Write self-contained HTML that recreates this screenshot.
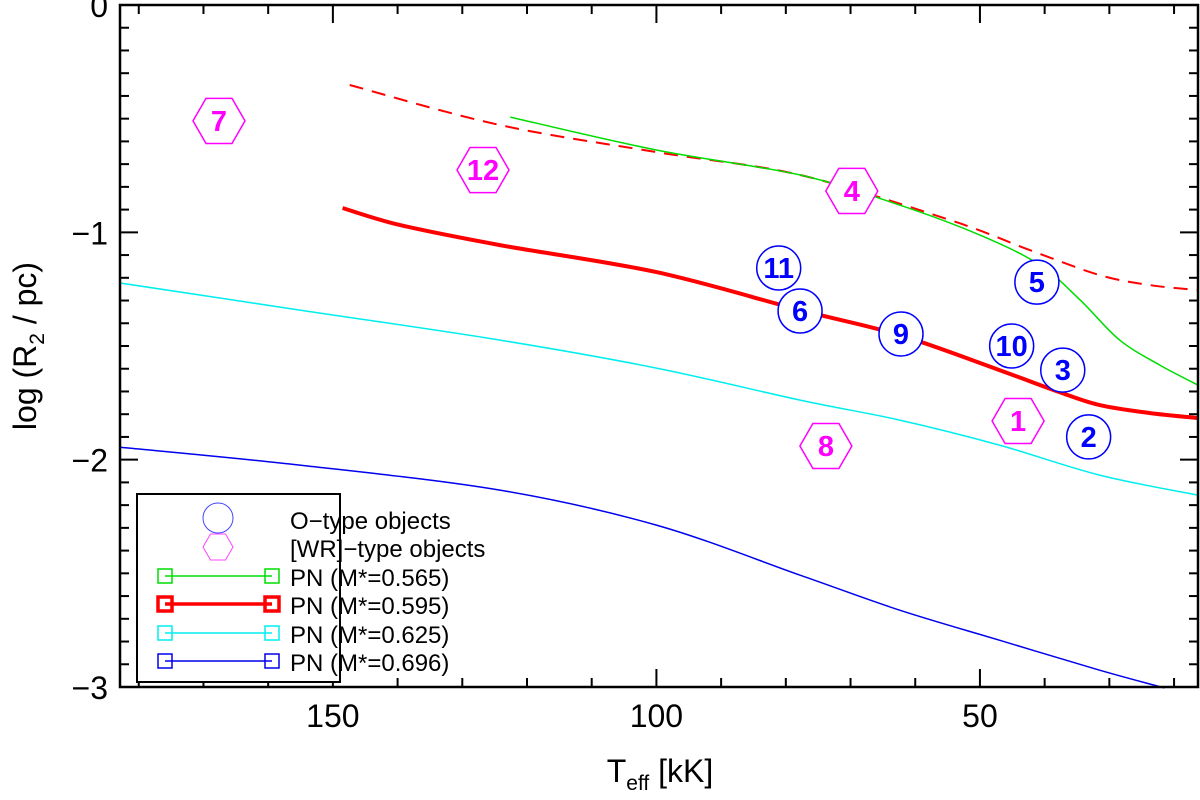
<!DOCTYPE html>
<html><head><meta charset="utf-8"><style>
body{margin:0;background:#fff}
svg text{font-family:"Liberation Sans",sans-serif}
</style></head><body>
<svg id="chart" width="1200" height="795" xmlns="http://www.w3.org/2000/svg">
<g id="grid"></g>
<g id="curves"></g>
<g id="marks"></g>
<rect x="120" y="5" width="1078" height="682" fill="none" stroke="#000" stroke-width="2.5"/>
<text x="660" y="782" font-size="32" text-anchor="middle">T<tspan font-size="21" dy="8">eff</tspan><tspan dy="-8"> [kK]</tspan></text>
<text transform="translate(36,346) rotate(-90)" font-size="32" text-anchor="middle">log (R<tspan font-size="21" dy="8">2</tspan><tspan dy="-8"> / pc)</tspan></text>
<g id="legend">
<rect x="137" y="494" width="203" height="188" fill="#fff" stroke="#000" stroke-width="2"/>
</g>
</svg>
<script>
const xTicks=[150,100,50];
const yTicks=[0,-1,-2,-3];
const oNames=["11","6","9","5","10","3","2"];
const oT=[81.1,77.8,62.2,41.2,45.1,37.2,33.2];
const oR=[-1.157,-1.346,-1.447,-1.219,-1.50,-1.606,-1.90];
const wrNames=["7","12","4","1","8"];
const wrT=[167.6,126.8,69.8,44.1,73.8];
const wrR=[-0.51,-0.726,-0.818,-1.83,-1.94];
const dashT=[147.4,124.2,100,77.8,54.6,42.3,31.5,23.7,16.3];
const dashR=[-0.352,-0.528,-0.647,-0.748,-0.946,-1.078,-1.188,-1.232,-1.254];
const greenT=[122.6,100,77.8,62.4,50,40.7,34.5,28.4,22.2,16.3];
const greenR=[-0.493,-0.638,-0.748,-0.88,-1.012,-1.144,-1.298,-1.474,-1.584,-1.672];
const redT=[148.5,139.6,124.2,100,77.8,62.4,47,37.7,31.5,23.7,16.3];
const redR=[-0.893,-0.968,-1.056,-1.175,-1.342,-1.452,-1.606,-1.703,-1.76,-1.795,-1.817];
const cyanT=[182.9,155.1,124.2,100,77.8,62.4,47,31.5,16.3];
const cyanR=[-1.223,-1.342,-1.474,-1.597,-1.738,-1.826,-1.936,-2.068,-2.156];
const blueT=[182.9,155.1,124.2,100,77.8,62.4,47,31.5,21.5];
const blueR=[-1.945,-2.024,-2.134,-2.288,-2.508,-2.662,-2.794,-2.926,-3.004];
const legendLabels=["O\u2212type objects","[WR]\u2212type objects","PN (M*=0.565)","PN (M*=0.595)","PN (M*=0.625)","PN (M*=0.696)"];

const NS="http://www.w3.org/2000/svg";
const X0=120,X1=1198,Y0=5,Y1=687,T0=182.9,T1=16.3;
const xs=t=>X0+(T0-t)/(T0-T1)*(X1-X0);
const ys=r=>Y0+(0-r)/3*(Y1-Y0);
function mk(tag,attrs,parent){const e=document.createElementNS(NS,tag);for(const k in attrs)e.setAttribute(k,attrs[k]);parent.appendChild(e);return e;}
const grid=document.getElementById('grid'),curves=document.getElementById('curves'),marks=document.getElementById('marks'),legend=document.getElementById('legend');
for(let t=20;t<=180;t+=10){const x=xs(t);const major=t%50===0;const L=major?18:9;
 const a=mk('line',{x1:x,x2:x,y1:Y1,y2:Y1-L,stroke:'#000','stroke-width':2},grid);
 
 const b=mk('line',{x1:x,x2:x,y1:Y0,y2:Y0+L,stroke:'#000','stroke-width':2},grid);
 }
for(let i=0;i<=30;i++){const r=-i/10;const y=ys(r);const major=i%10===0;const L=major?18:9;
 const a=mk('line',{x1:X0,x2:X0+L,y1:y,y2:y,stroke:'#000','stroke-width':2},grid);
 
 const b=mk('line',{x1:X1,x2:X1-L,y1:y,y2:y,stroke:'#000','stroke-width':2},grid);
 }
xTicks.forEach(t=>{const e=mk('text',{x:xs(t),y:727,'font-size':32,'text-anchor':'middle'},grid);e.textContent=t;
 });
yTicks.forEach(r=>{const e=mk('text',{x:108,y:ys(r)+12,'font-size':32,'text-anchor':'end'},grid);e.textContent=r===0?'0':'\u2212'+(-r);
 });
function line(T,R,color,w,name,dash){
 const P=T.map((t,i)=>[xs(t),ys(R[i])]);
 let d='M'+P[0][0].toFixed(1)+','+P[0][1].toFixed(1);
 for(let i=0;i<P.length-1;i++){const p0=P[i-1]||P[i],p1=P[i],p2=P[i+1],p3=P[i+2]||P[i+1];
  const c1=[p1[0]+(p2[0]-p0[0])/6,p1[1]+(p2[1]-p0[1])/6],c2=[p2[0]-(p3[0]-p1[0])/6,p2[1]-(p3[1]-p1[1])/6];
  d+='C'+c1[0].toFixed(1)+','+c1[1].toFixed(1)+' '+c2[0].toFixed(1)+','+c2[1].toFixed(1)+' '+p2[0].toFixed(1)+','+p2[1].toFixed(1);}
 const p=mk('path',{d:d,fill:'none',stroke:color,'stroke-width':w},curves);if(dash)p.setAttribute('stroke-dasharray',dash);
 }
line(dashT,dashR,'#ff0000',2,'red-dashed-curve','14,9');
line(greenT,greenR,'#00dd00',1.5,'curve-m0565');
line(redT,redR,'#ff0000',4,'curve-m0595');
line(cyanT,cyanR,'#00eeee',1.5,'curve-m0625');
line(blueT,blueR,'#0000ee',1.5,'curve-m0696');
function hex(cx,cy,r,parent,color,w){const pts=[];for(let k=0;k<6;k++){const a=Math.PI/3*k;pts.push((cx+r*Math.cos(a)).toFixed(1)+','+(cy+r*Math.sin(a)).toFixed(1));}
 return mk('polygon',{points:pts.join(' '),fill:'#fff',stroke:color,'stroke-width':w},parent);}
wrNames.forEach((n,i)=>{const g=mk('g',{},marks);
 const cx=xs(wrT[i]),cy=ys(wrR[i]);hex(cx,cy,26,g,'#ff00ff',1.5);
 const t=mk('text',{x:cx,y:cy+10,'font-size':29,'font-weight':'bold',fill:'#ff00ff','text-anchor':'middle'},g);t.textContent=n;});
oNames.forEach((n,i)=>{const g=mk('g',{},marks);
 const cx=xs(oT[i]),cy=ys(oR[i]);mk('circle',{cx:cx,cy:cy,r:22,fill:'#fff',stroke:'#0000ff','stroke-width':1.5},g);
 const t=mk('text',{x:cx,y:cy+10,'font-size':29,'font-weight':'bold',fill:'#0000ff','text-anchor':'middle'},g);t.textContent=n;});
const lc=mk('circle',{cx:218,cy:518,r:15,fill:'none',stroke:'#4444ff','stroke-width':1},legend);

const lh=hex(218,547,15,legend,'#ff44ff',1);lh.setAttribute('fill','none');

const lcol=['#00dd00','#ff0000','#00eeee','#0000ee'],lw=[1.5,3.5,1.5,1.5],ly=[576,604,633,661];
lcol.forEach((c,i)=>{const g=mk('g',{},legend);
 mk('line',{x1:165,x2:272,y1:ly[i],y2:ly[i],stroke:c,'stroke-width':lw[i]},g);
 [165,272].forEach(x=>mk('rect',{x:x-7,y:ly[i]-7,width:14,height:14,fill:'none',stroke:c,'stroke-width':lw[i]},g));});
const labY=[529,557,586,614,643,671];
legendLabels.forEach((s,i)=>{const t=mk('text',{x:290,y:labY[i],'font-size':24},legend);t.textContent=s;
 });
</script>
</body></html>
